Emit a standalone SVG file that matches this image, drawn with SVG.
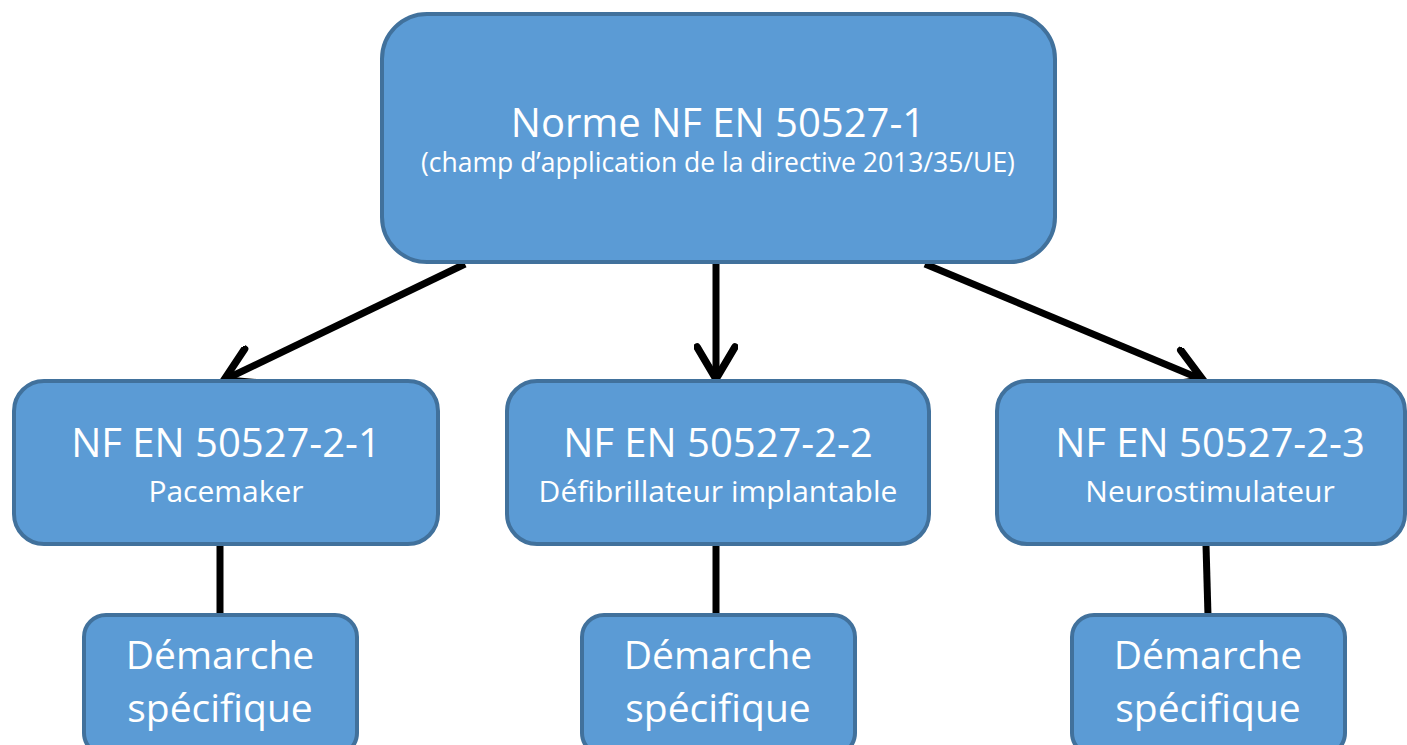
<svg xmlns="http://www.w3.org/2000/svg" width="1407" height="745" viewBox="0 0 1407 745">
<defs>
<style>
.box{fill:#5B9BD5;stroke:#41719C;stroke-width:4}
.t{font-family:"Open Sans","Noto Sans",sans-serif;fill:#fff;text-anchor:middle}
.big{font-size:40px}
.dm{font-size:39px}
.sm{font-size:26.5px}
.md{font-size:30px}
.conn{stroke:#000;stroke-width:7;fill:none}
</style>
<marker id="arr" markerUnits="userSpaceOnUse" markerWidth="44" markerHeight="44" viewBox="-38 -22 44 44" refX="0" refY="0" orient="auto">
<path d="M-32,-19 L0,0 L-32,19" fill="none" stroke="#000" stroke-width="7.5" stroke-linecap="round" stroke-linejoin="miter"/>
</marker>
</defs>
<rect width="1407" height="745" fill="#fff"/>
<g id="connectors">
<line class="conn" x1="465" y1="264" x2="224" y2="380" marker-end="url(#arr)"/>
<line class="conn" x1="716" y1="264" x2="716" y2="379" marker-end="url(#arr)"/>
<line class="conn" x1="925" y1="264" x2="1203" y2="380" marker-end="url(#arr)"/>
<line class="conn" x1="220" y1="545" x2="220" y2="616"/>
<line class="conn" x1="716" y1="545" x2="716" y2="616"/>
<line class="conn" x1="1206" y1="545" x2="1208" y2="616"/>
</g>
<g id="root">
<rect class="box" x="382" y="14" width="673" height="248" rx="45"/>
<text class="t big" x="718" y="137">Norme NF EN 50527-1</text>
<text class="t sm" x="718" y="172">(champ d’application de la directive 2013/35/UE)</text>
</g>
<g id="n21">
<rect class="box" x="14" y="381" width="424" height="163" rx="30"/>
<text class="t big" x="226" y="457">NF EN 50527-2-1</text>
<text class="t md" x="226" y="502">Pacemaker</text>
</g>
<g id="n22">
<rect class="box" x="507" y="381" width="422" height="163" rx="30"/>
<text class="t big" x="718" y="457">NF EN 50527-2-2</text>
<text class="t md" x="718" y="502">Défibrillateur implantable</text>
</g>
<g id="n23">
<rect class="box" x="997" y="381" width="408" height="163" rx="30"/>
<text class="t big" x="1210" y="457">NF EN 50527-2-3</text>
<text class="t md" x="1210" y="502">Neurostimulateur</text>
</g>
<g id="d1">
<rect class="box" x="84" y="615" width="273" height="140" rx="22"/>
<text class="t dm" x="220" y="669">Démarche</text>
<text class="t dm" x="220" y="722">spécifique</text>
</g>
<g id="d2">
<rect class="box" x="582" y="615" width="273" height="140" rx="22"/>
<text class="t dm" x="718" y="669">Démarche</text>
<text class="t dm" x="718" y="722">spécifique</text>
</g>
<g id="d3">
<rect class="box" x="1072" y="615" width="273" height="140" rx="22"/>
<text class="t dm" x="1208" y="669">Démarche</text>
<text class="t dm" x="1208" y="722">spécifique</text>
</g>
</svg>
